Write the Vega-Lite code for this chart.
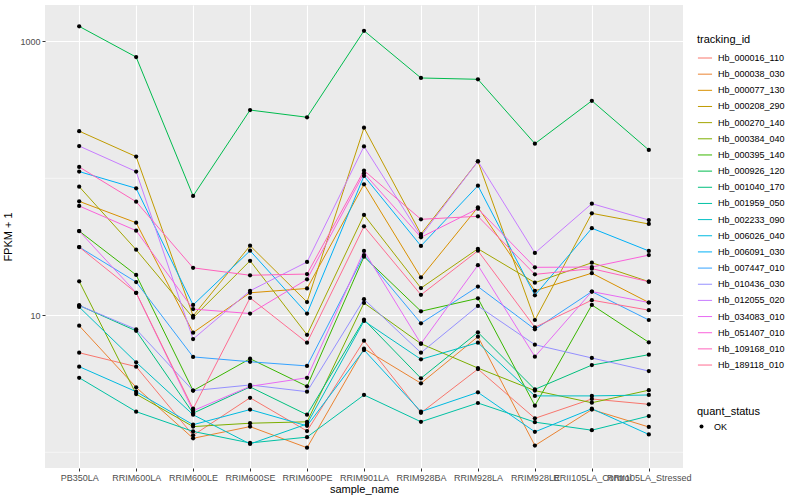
{
  "$schema": "https://vega.github.io/schema/vega-lite/v6.json",
  "width": 638,
  "height": 463,
  "autosize": {"type": "none"},
  "padding": {"left": 45, "top": 5, "right": 117, "bottom": 32},
  "background": "white",
  "config": {
    "view": {"fill": "#EBEBEB", "stroke": null},
    "font": "Liberation Sans",
    "axis": {
      "domain": false,
      "gridColor": "#FFFFFF",
      "gridWidth": 1.1,
      "tickColor": "#333333",
      "tickSize": 3,
      "labelFontSize": 9,
      "labelColor": "#4D4D4D",
      "labelFont": "Liberation Sans",
      "titleFont": "Liberation Sans",
      "titleFontSize": 11,
      "titleFontWeight": "normal",
      "titleColor": "#000000"
    },
    "legend": {
      "titleFont": "Liberation Sans",
      "titleFontSize": 11,
      "titleFontWeight": "normal",
      "titleColor": "#000000",
      "labelFont": "Liberation Sans",
      "labelFontSize": 9,
      "labelColor": "#000000"
    }
  },
  "datasets": {
    "expr": [
      {"tracking_id": "Hb_000016_110", "sample_name": "PB350LA", "FPKM": 5.33, "quant_status": "OK"},
      {"tracking_id": "Hb_000016_110", "sample_name": "RRIM600LA", "FPKM": 4.22, "quant_status": "OK"},
      {"tracking_id": "Hb_000016_110", "sample_name": "RRIM600LE", "FPKM": 1.33, "quant_status": "OK"},
      {"tracking_id": "Hb_000016_110", "sample_name": "RRIM600SE", "FPKM": 2.5, "quant_status": "OK"},
      {"tracking_id": "Hb_000016_110", "sample_name": "RRIM600PE", "FPKM": 1.43, "quant_status": "OK"},
      {"tracking_id": "Hb_000016_110", "sample_name": "RRIM901LA", "FPKM": 6.53, "quant_status": "OK"},
      {"tracking_id": "Hb_000016_110", "sample_name": "RRIM928BA", "FPKM": 1.94, "quant_status": "OK"},
      {"tracking_id": "Hb_000016_110", "sample_name": "RRIM928LA", "FPKM": 4.05, "quant_status": "OK"},
      {"tracking_id": "Hb_000016_110", "sample_name": "RRIM928LE", "FPKM": 1.77, "quant_status": "OK"},
      {"tracking_id": "Hb_000016_110", "sample_name": "RRII105LA_Control", "FPKM": 2.45, "quant_status": "OK"},
      {"tracking_id": "Hb_000016_110", "sample_name": "RRII105LA_Stressed", "FPKM": 2.24, "quant_status": "OK"},

      {"tracking_id": "Hb_000038_030", "sample_name": "PB350LA", "FPKM": 8.4, "quant_status": "OK"},
      {"tracking_id": "Hb_000038_030", "sample_name": "RRIM600LA", "FPKM": 2.98, "quant_status": "OK"},
      {"tracking_id": "Hb_000038_030", "sample_name": "RRIM600LE", "FPKM": 1.265, "quant_status": "OK"},
      {"tracking_id": "Hb_000038_030", "sample_name": "RRIM600SE", "FPKM": 1.54, "quant_status": "OK"},
      {"tracking_id": "Hb_000038_030", "sample_name": "RRIM600PE", "FPKM": 1.08, "quant_status": "OK"},
      {"tracking_id": "Hb_000038_030", "sample_name": "RRIM901LA", "FPKM": 5.7, "quant_status": "OK"},
      {"tracking_id": "Hb_000038_030", "sample_name": "RRIM928BA", "FPKM": 3.19, "quant_status": "OK"},
      {"tracking_id": "Hb_000038_030", "sample_name": "RRIM928LA", "FPKM": 6.98, "quant_status": "OK"},
      {"tracking_id": "Hb_000038_030", "sample_name": "RRIM928LE", "FPKM": 1.12, "quant_status": "OK"},
      {"tracking_id": "Hb_000038_030", "sample_name": "RRII105LA_Control", "FPKM": 2.05, "quant_status": "OK"},
      {"tracking_id": "Hb_000038_030", "sample_name": "RRII105LA_Stressed", "FPKM": 1.53, "quant_status": "OK"},

      {"tracking_id": "Hb_000077_130", "sample_name": "PB350LA", "FPKM": 67.9, "quant_status": "OK"},
      {"tracking_id": "Hb_000077_130", "sample_name": "RRIM600LA", "FPKM": 47.4, "quant_status": "OK"},
      {"tracking_id": "Hb_000077_130", "sample_name": "RRIM600LE", "FPKM": 7.47, "quant_status": "OK"},
      {"tracking_id": "Hb_000077_130", "sample_name": "RRIM600SE", "FPKM": 14.6, "quant_status": "OK"},
      {"tracking_id": "Hb_000077_130", "sample_name": "RRIM600PE", "FPKM": 15.7, "quant_status": "OK"},
      {"tracking_id": "Hb_000077_130", "sample_name": "RRIM901LA", "FPKM": 90.4, "quant_status": "OK"},
      {"tracking_id": "Hb_000077_130", "sample_name": "RRIM928BA", "FPKM": 18.9, "quant_status": "OK"},
      {"tracking_id": "Hb_000077_130", "sample_name": "RRIM928LA", "FPKM": 61.4, "quant_status": "OK"},
      {"tracking_id": "Hb_000077_130", "sample_name": "RRIM928LE", "FPKM": 15.1, "quant_status": "OK"},
      {"tracking_id": "Hb_000077_130", "sample_name": "RRII105LA_Control", "FPKM": 20.3, "quant_status": "OK"},
      {"tracking_id": "Hb_000077_130", "sample_name": "RRII105LA_Stressed", "FPKM": 12.4, "quant_status": "OK"},

      {"tracking_id": "Hb_000208_290", "sample_name": "PB350LA", "FPKM": 221, "quant_status": "OK"},
      {"tracking_id": "Hb_000208_290", "sample_name": "RRIM600LA", "FPKM": 144, "quant_status": "OK"},
      {"tracking_id": "Hb_000208_290", "sample_name": "RRIM600LE", "FPKM": 9.9, "quant_status": "OK"},
      {"tracking_id": "Hb_000208_290", "sample_name": "RRIM600SE", "FPKM": 32.2, "quant_status": "OK"},
      {"tracking_id": "Hb_000208_290", "sample_name": "RRIM600PE", "FPKM": 12.5, "quant_status": "OK"},
      {"tracking_id": "Hb_000208_290", "sample_name": "RRIM901LA", "FPKM": 234, "quant_status": "OK"},
      {"tracking_id": "Hb_000208_290", "sample_name": "RRIM928BA", "FPKM": 39.2, "quant_status": "OK"},
      {"tracking_id": "Hb_000208_290", "sample_name": "RRIM928LA", "FPKM": 133, "quant_status": "OK"},
      {"tracking_id": "Hb_000208_290", "sample_name": "RRIM928LE", "FPKM": 9.24, "quant_status": "OK"},
      {"tracking_id": "Hb_000208_290", "sample_name": "RRII105LA_Control", "FPKM": 55.5, "quant_status": "OK"},
      {"tracking_id": "Hb_000208_290", "sample_name": "RRII105LA_Stressed", "FPKM": 46.4, "quant_status": "OK"},

      {"tracking_id": "Hb_000270_140", "sample_name": "PB350LA", "FPKM": 86.9, "quant_status": "OK"},
      {"tracking_id": "Hb_000270_140", "sample_name": "RRIM600LA", "FPKM": 30.1, "quant_status": "OK"},
      {"tracking_id": "Hb_000270_140", "sample_name": "RRIM600LE", "FPKM": 9.6, "quant_status": "OK"},
      {"tracking_id": "Hb_000270_140", "sample_name": "RRIM600SE", "FPKM": 25.0, "quant_status": "OK"},
      {"tracking_id": "Hb_000270_140", "sample_name": "RRIM600PE", "FPKM": 7.21, "quant_status": "OK"},
      {"tracking_id": "Hb_000270_140", "sample_name": "RRIM901LA", "FPKM": 54.0, "quant_status": "OK"},
      {"tracking_id": "Hb_000270_140", "sample_name": "RRIM928BA", "FPKM": 15.8, "quant_status": "OK"},
      {"tracking_id": "Hb_000270_140", "sample_name": "RRIM928LA", "FPKM": 30.6, "quant_status": "OK"},
      {"tracking_id": "Hb_000270_140", "sample_name": "RRIM928LE", "FPKM": 17.3, "quant_status": "OK"},
      {"tracking_id": "Hb_000270_140", "sample_name": "RRII105LA_Control", "FPKM": 24.2, "quant_status": "OK"},
      {"tracking_id": "Hb_000270_140", "sample_name": "RRII105LA_Stressed", "FPKM": 17.6, "quant_status": "OK"},

      {"tracking_id": "Hb_000384_040", "sample_name": "PB350LA", "FPKM": 17.7, "quant_status": "OK"},
      {"tracking_id": "Hb_000384_040", "sample_name": "RRIM600LA", "FPKM": 2.66, "quant_status": "OK"},
      {"tracking_id": "Hb_000384_040", "sample_name": "RRIM600LE", "FPKM": 1.54, "quant_status": "OK"},
      {"tracking_id": "Hb_000384_040", "sample_name": "RRIM600SE", "FPKM": 1.63, "quant_status": "OK"},
      {"tracking_id": "Hb_000384_040", "sample_name": "RRIM600PE", "FPKM": 1.67, "quant_status": "OK"},
      {"tracking_id": "Hb_000384_040", "sample_name": "RRIM901LA", "FPKM": 12.3, "quant_status": "OK"},
      {"tracking_id": "Hb_000384_040", "sample_name": "RRIM928BA", "FPKM": 6.2, "quant_status": "OK"},
      {"tracking_id": "Hb_000384_040", "sample_name": "RRIM928LA", "FPKM": 4.12, "quant_status": "OK"},
      {"tracking_id": "Hb_000384_040", "sample_name": "RRIM928LE", "FPKM": 2.82, "quant_status": "OK"},
      {"tracking_id": "Hb_000384_040", "sample_name": "RRII105LA_Control", "FPKM": 2.3, "quant_status": "OK"},
      {"tracking_id": "Hb_000384_040", "sample_name": "RRII105LA_Stressed", "FPKM": 2.84, "quant_status": "OK"},

      {"tracking_id": "Hb_000395_140", "sample_name": "PB350LA", "FPKM": 41.2, "quant_status": "OK"},
      {"tracking_id": "Hb_000395_140", "sample_name": "RRIM600LA", "FPKM": 19.7, "quant_status": "OK"},
      {"tracking_id": "Hb_000395_140", "sample_name": "RRIM600LE", "FPKM": 2.82, "quant_status": "OK"},
      {"tracking_id": "Hb_000395_140", "sample_name": "RRIM600SE", "FPKM": 4.82, "quant_status": "OK"},
      {"tracking_id": "Hb_000395_140", "sample_name": "RRIM600PE", "FPKM": 3.03, "quant_status": "OK"},
      {"tracking_id": "Hb_000395_140", "sample_name": "RRIM901LA", "FPKM": 26.8, "quant_status": "OK"},
      {"tracking_id": "Hb_000395_140", "sample_name": "RRIM928BA", "FPKM": 10.7, "quant_status": "OK"},
      {"tracking_id": "Hb_000395_140", "sample_name": "RRIM928LA", "FPKM": 13.3, "quant_status": "OK"},
      {"tracking_id": "Hb_000395_140", "sample_name": "RRIM928LE", "FPKM": 2.19, "quant_status": "OK"},
      {"tracking_id": "Hb_000395_140", "sample_name": "RRII105LA_Control", "FPKM": 11.9, "quant_status": "OK"},
      {"tracking_id": "Hb_000395_140", "sample_name": "RRII105LA_Stressed", "FPKM": 6.35, "quant_status": "OK"},

      {"tracking_id": "Hb_000926_120", "sample_name": "PB350LA", "FPKM": 1286, "quant_status": "OK"},
      {"tracking_id": "Hb_000926_120", "sample_name": "RRIM600LA", "FPKM": 767, "quant_status": "OK"},
      {"tracking_id": "Hb_000926_120", "sample_name": "RRIM600LE", "FPKM": 74.3, "quant_status": "OK"},
      {"tracking_id": "Hb_000926_120", "sample_name": "RRIM600SE", "FPKM": 315, "quant_status": "OK"},
      {"tracking_id": "Hb_000926_120", "sample_name": "RRIM600PE", "FPKM": 279, "quant_status": "OK"},
      {"tracking_id": "Hb_000926_120", "sample_name": "RRIM901LA", "FPKM": 1194, "quant_status": "OK"},
      {"tracking_id": "Hb_000926_120", "sample_name": "RRIM928BA", "FPKM": 540, "quant_status": "OK"},
      {"tracking_id": "Hb_000926_120", "sample_name": "RRIM928LA", "FPKM": 528, "quant_status": "OK"},
      {"tracking_id": "Hb_000926_120", "sample_name": "RRIM928LE", "FPKM": 179, "quant_status": "OK"},
      {"tracking_id": "Hb_000926_120", "sample_name": "RRII105LA_Control", "FPKM": 368, "quant_status": "OK"},
      {"tracking_id": "Hb_000926_120", "sample_name": "RRII105LA_Stressed", "FPKM": 161, "quant_status": "OK"},

      {"tracking_id": "Hb_001040_170", "sample_name": "PB350LA", "FPKM": 11.8, "quant_status": "OK"},
      {"tracking_id": "Hb_001040_170", "sample_name": "RRIM600LA", "FPKM": 7.7, "quant_status": "OK"},
      {"tracking_id": "Hb_001040_170", "sample_name": "RRIM600LE", "FPKM": 1.93, "quant_status": "OK"},
      {"tracking_id": "Hb_001040_170", "sample_name": "RRIM600SE", "FPKM": 3.0, "quant_status": "OK"},
      {"tracking_id": "Hb_001040_170", "sample_name": "RRIM600PE", "FPKM": 1.88, "quant_status": "OK"},
      {"tracking_id": "Hb_001040_170", "sample_name": "RRIM901LA", "FPKM": 9.29, "quant_status": "OK"},
      {"tracking_id": "Hb_001040_170", "sample_name": "RRIM928BA", "FPKM": 3.47, "quant_status": "OK"},
      {"tracking_id": "Hb_001040_170", "sample_name": "RRIM928LA", "FPKM": 7.51, "quant_status": "OK"},
      {"tracking_id": "Hb_001040_170", "sample_name": "RRIM928LE", "FPKM": 2.88, "quant_status": "OK"},
      {"tracking_id": "Hb_001040_170", "sample_name": "RRII105LA_Control", "FPKM": 4.33, "quant_status": "OK"},
      {"tracking_id": "Hb_001040_170", "sample_name": "RRII105LA_Stressed", "FPKM": 5.16, "quant_status": "OK"},

      {"tracking_id": "Hb_001959_050", "sample_name": "PB350LA", "FPKM": 3.5, "quant_status": "OK"},
      {"tracking_id": "Hb_001959_050", "sample_name": "RRIM600LA", "FPKM": 1.98, "quant_status": "OK"},
      {"tracking_id": "Hb_001959_050", "sample_name": "RRIM600LE", "FPKM": 1.42, "quant_status": "OK"},
      {"tracking_id": "Hb_001959_050", "sample_name": "RRIM600SE", "FPKM": 1.17, "quant_status": "OK"},
      {"tracking_id": "Hb_001959_050", "sample_name": "RRIM600PE", "FPKM": 1.29, "quant_status": "OK"},
      {"tracking_id": "Hb_001959_050", "sample_name": "RRIM901LA", "FPKM": 2.62, "quant_status": "OK"},
      {"tracking_id": "Hb_001959_050", "sample_name": "RRIM928BA", "FPKM": 1.67, "quant_status": "OK"},
      {"tracking_id": "Hb_001959_050", "sample_name": "RRIM928LA", "FPKM": 2.29, "quant_status": "OK"},
      {"tracking_id": "Hb_001959_050", "sample_name": "RRIM928LE", "FPKM": 1.66, "quant_status": "OK"},
      {"tracking_id": "Hb_001959_050", "sample_name": "RRII105LA_Control", "FPKM": 1.45, "quant_status": "OK"},
      {"tracking_id": "Hb_001959_050", "sample_name": "RRII105LA_Stressed", "FPKM": 1.84, "quant_status": "OK"},

      {"tracking_id": "Hb_002233_090", "sample_name": "PB350LA", "FPKM": 11.5, "quant_status": "OK"},
      {"tracking_id": "Hb_002233_090", "sample_name": "RRIM600LA", "FPKM": 4.54, "quant_status": "OK"},
      {"tracking_id": "Hb_002233_090", "sample_name": "RRIM600LE", "FPKM": 1.88, "quant_status": "OK"},
      {"tracking_id": "Hb_002233_090", "sample_name": "RRIM600SE", "FPKM": 1.15, "quant_status": "OK"},
      {"tracking_id": "Hb_002233_090", "sample_name": "RRIM600PE", "FPKM": 1.61, "quant_status": "OK"},
      {"tracking_id": "Hb_002233_090", "sample_name": "RRIM901LA", "FPKM": 9.09, "quant_status": "OK"},
      {"tracking_id": "Hb_002233_090", "sample_name": "RRIM928BA", "FPKM": 4.77, "quant_status": "OK"},
      {"tracking_id": "Hb_002233_090", "sample_name": "RRIM928LA", "FPKM": 6.31, "quant_status": "OK"},
      {"tracking_id": "Hb_002233_090", "sample_name": "RRIM928LE", "FPKM": 2.58, "quant_status": "OK"},
      {"tracking_id": "Hb_002233_090", "sample_name": "RRII105LA_Control", "FPKM": 2.58, "quant_status": "OK"},
      {"tracking_id": "Hb_002233_090", "sample_name": "RRII105LA_Stressed", "FPKM": 2.62, "quant_status": "OK"},

      {"tracking_id": "Hb_006026_040", "sample_name": "PB350LA", "FPKM": 4.22, "quant_status": "OK"},
      {"tracking_id": "Hb_006026_040", "sample_name": "RRIM600LA", "FPKM": 2.77, "quant_status": "OK"},
      {"tracking_id": "Hb_006026_040", "sample_name": "RRIM600LE", "FPKM": 1.59, "quant_status": "OK"},
      {"tracking_id": "Hb_006026_040", "sample_name": "RRIM600SE", "FPKM": 2.05, "quant_status": "OK"},
      {"tracking_id": "Hb_006026_040", "sample_name": "RRIM600PE", "FPKM": 1.56, "quant_status": "OK"},
      {"tracking_id": "Hb_006026_040", "sample_name": "RRIM901LA", "FPKM": 5.58, "quant_status": "OK"},
      {"tracking_id": "Hb_006026_040", "sample_name": "RRIM928BA", "FPKM": 1.98, "quant_status": "OK"},
      {"tracking_id": "Hb_006026_040", "sample_name": "RRIM928LA", "FPKM": 2.74, "quant_status": "OK"},
      {"tracking_id": "Hb_006026_040", "sample_name": "RRIM928LE", "FPKM": 1.41, "quant_status": "OK"},
      {"tracking_id": "Hb_006026_040", "sample_name": "RRII105LA_Control", "FPKM": 2.08, "quant_status": "OK"},
      {"tracking_id": "Hb_006026_040", "sample_name": "RRII105LA_Stressed", "FPKM": 1.35, "quant_status": "OK"},

      {"tracking_id": "Hb_006091_030", "sample_name": "PB350LA", "FPKM": 112, "quant_status": "OK"},
      {"tracking_id": "Hb_006091_030", "sample_name": "RRIM600LA", "FPKM": 84.5, "quant_status": "OK"},
      {"tracking_id": "Hb_006091_030", "sample_name": "RRIM600LE", "FPKM": 11.9, "quant_status": "OK"},
      {"tracking_id": "Hb_006091_030", "sample_name": "RRIM600SE", "FPKM": 29.6, "quant_status": "OK"},
      {"tracking_id": "Hb_006091_030", "sample_name": "RRIM600PE", "FPKM": 10.3, "quant_status": "OK"},
      {"tracking_id": "Hb_006091_030", "sample_name": "RRIM901LA", "FPKM": 104, "quant_status": "OK"},
      {"tracking_id": "Hb_006091_030", "sample_name": "RRIM928BA", "FPKM": 32.1, "quant_status": "OK"},
      {"tracking_id": "Hb_006091_030", "sample_name": "RRIM928LA", "FPKM": 88.3, "quant_status": "OK"},
      {"tracking_id": "Hb_006091_030", "sample_name": "RRIM928LE", "FPKM": 14.0, "quant_status": "OK"},
      {"tracking_id": "Hb_006091_030", "sample_name": "RRII105LA_Control", "FPKM": 43.2, "quant_status": "OK"},
      {"tracking_id": "Hb_006091_030", "sample_name": "RRII105LA_Stressed", "FPKM": 29.5, "quant_status": "OK"},

      {"tracking_id": "Hb_007447_010", "sample_name": "PB350LA", "FPKM": 31.5, "quant_status": "OK"},
      {"tracking_id": "Hb_007447_010", "sample_name": "RRIM600LA", "FPKM": 17.5, "quant_status": "OK"},
      {"tracking_id": "Hb_007447_010", "sample_name": "RRIM600LE", "FPKM": 4.97, "quant_status": "OK"},
      {"tracking_id": "Hb_007447_010", "sample_name": "RRIM600SE", "FPKM": 4.58, "quant_status": "OK"},
      {"tracking_id": "Hb_007447_010", "sample_name": "RRIM600PE", "FPKM": 4.27, "quant_status": "OK"},
      {"tracking_id": "Hb_007447_010", "sample_name": "RRIM901LA", "FPKM": 27.5, "quant_status": "OK"},
      {"tracking_id": "Hb_007447_010", "sample_name": "RRIM928BA", "FPKM": 8.74, "quant_status": "OK"},
      {"tracking_id": "Hb_007447_010", "sample_name": "RRIM928LA", "FPKM": 16.2, "quant_status": "OK"},
      {"tracking_id": "Hb_007447_010", "sample_name": "RRIM928LE", "FPKM": 7.9, "quant_status": "OK"},
      {"tracking_id": "Hb_007447_010", "sample_name": "RRII105LA_Control", "FPKM": 14.9, "quant_status": "OK"},
      {"tracking_id": "Hb_007447_010", "sample_name": "RRII105LA_Stressed", "FPKM": 9.24, "quant_status": "OK"},

      {"tracking_id": "Hb_010436_030", "sample_name": "PB350LA", "FPKM": 11.8, "quant_status": "OK"},
      {"tracking_id": "Hb_010436_030", "sample_name": "RRIM600LA", "FPKM": 7.9, "quant_status": "OK"},
      {"tracking_id": "Hb_010436_030", "sample_name": "RRIM600LE", "FPKM": 2.82, "quant_status": "OK"},
      {"tracking_id": "Hb_010436_030", "sample_name": "RRIM600SE", "FPKM": 3.1, "quant_status": "OK"},
      {"tracking_id": "Hb_010436_030", "sample_name": "RRIM600PE", "FPKM": 2.77, "quant_status": "OK"},
      {"tracking_id": "Hb_010436_030", "sample_name": "RRIM901LA", "FPKM": 13.1, "quant_status": "OK"},
      {"tracking_id": "Hb_010436_030", "sample_name": "RRIM928BA", "FPKM": 5.33, "quant_status": "OK"},
      {"tracking_id": "Hb_010436_030", "sample_name": "RRIM928LA", "FPKM": 11.7, "quant_status": "OK"},
      {"tracking_id": "Hb_010436_030", "sample_name": "RRIM928LE", "FPKM": 6.1, "quant_status": "OK"},
      {"tracking_id": "Hb_010436_030", "sample_name": "RRII105LA_Control", "FPKM": 4.88, "quant_status": "OK"},
      {"tracking_id": "Hb_010436_030", "sample_name": "RRII105LA_Stressed", "FPKM": 3.92, "quant_status": "OK"},

      {"tracking_id": "Hb_012055_020", "sample_name": "PB350LA", "FPKM": 172, "quant_status": "OK"},
      {"tracking_id": "Hb_012055_020", "sample_name": "RRIM600LA", "FPKM": 112, "quant_status": "OK"},
      {"tracking_id": "Hb_012055_020", "sample_name": "RRIM600LE", "FPKM": 6.71, "quant_status": "OK"},
      {"tracking_id": "Hb_012055_020", "sample_name": "RRIM600SE", "FPKM": 15.1, "quant_status": "OK"},
      {"tracking_id": "Hb_012055_020", "sample_name": "RRIM600PE", "FPKM": 24.5, "quant_status": "OK"},
      {"tracking_id": "Hb_012055_020", "sample_name": "RRIM901LA", "FPKM": 171, "quant_status": "OK"},
      {"tracking_id": "Hb_012055_020", "sample_name": "RRIM928BA", "FPKM": 37.9, "quant_status": "OK"},
      {"tracking_id": "Hb_012055_020", "sample_name": "RRIM928LA", "FPKM": 133, "quant_status": "OK"},
      {"tracking_id": "Hb_012055_020", "sample_name": "RRIM928LE", "FPKM": 28.5, "quant_status": "OK"},
      {"tracking_id": "Hb_012055_020", "sample_name": "RRII105LA_Control", "FPKM": 65.3, "quant_status": "OK"},
      {"tracking_id": "Hb_012055_020", "sample_name": "RRII105LA_Stressed", "FPKM": 49.6, "quant_status": "OK"},

      {"tracking_id": "Hb_034083_010", "sample_name": "PB350LA", "FPKM": 41.2, "quant_status": "OK"},
      {"tracking_id": "Hb_034083_010", "sample_name": "RRIM600LA", "FPKM": 14.6, "quant_status": "OK"},
      {"tracking_id": "Hb_034083_010", "sample_name": "RRIM600LE", "FPKM": 2.01, "quant_status": "OK"},
      {"tracking_id": "Hb_034083_010", "sample_name": "RRIM600SE", "FPKM": 3.03, "quant_status": "OK"},
      {"tracking_id": "Hb_034083_010", "sample_name": "RRIM600PE", "FPKM": 3.5, "quant_status": "OK"},
      {"tracking_id": "Hb_034083_010", "sample_name": "RRIM901LA", "FPKM": 29.5, "quant_status": "OK"},
      {"tracking_id": "Hb_034083_010", "sample_name": "RRIM928BA", "FPKM": 6.21, "quant_status": "OK"},
      {"tracking_id": "Hb_034083_010", "sample_name": "RRIM928LA", "FPKM": 23.2, "quant_status": "OK"},
      {"tracking_id": "Hb_034083_010", "sample_name": "RRIM928LE", "FPKM": 4.99, "quant_status": "OK"},
      {"tracking_id": "Hb_034083_010", "sample_name": "RRII105LA_Control", "FPKM": 14.9, "quant_status": "OK"},
      {"tracking_id": "Hb_034083_010", "sample_name": "RRII105LA_Stressed", "FPKM": 12.4, "quant_status": "OK"},

      {"tracking_id": "Hb_051407_010", "sample_name": "PB350LA", "FPKM": 62.8, "quant_status": "OK"},
      {"tracking_id": "Hb_051407_010", "sample_name": "RRIM600LA", "FPKM": 41.5, "quant_status": "OK"},
      {"tracking_id": "Hb_051407_010", "sample_name": "RRIM600LE", "FPKM": 11.1, "quant_status": "OK"},
      {"tracking_id": "Hb_051407_010", "sample_name": "RRIM600SE", "FPKM": 10.3, "quant_status": "OK"},
      {"tracking_id": "Hb_051407_010", "sample_name": "RRIM600PE", "FPKM": 18.3, "quant_status": "OK"},
      {"tracking_id": "Hb_051407_010", "sample_name": "RRIM901LA", "FPKM": 109, "quant_status": "OK"},
      {"tracking_id": "Hb_051407_010", "sample_name": "RRIM928BA", "FPKM": 37.1, "quant_status": "OK"},
      {"tracking_id": "Hb_051407_010", "sample_name": "RRIM928LA", "FPKM": 60.0, "quant_status": "OK"},
      {"tracking_id": "Hb_051407_010", "sample_name": "RRIM928LE", "FPKM": 22.4, "quant_status": "OK"},
      {"tracking_id": "Hb_051407_010", "sample_name": "RRII105LA_Control", "FPKM": 22.5, "quant_status": "OK"},
      {"tracking_id": "Hb_051407_010", "sample_name": "RRII105LA_Stressed", "FPKM": 27.5, "quant_status": "OK"},

      {"tracking_id": "Hb_109168_010", "sample_name": "PB350LA", "FPKM": 121, "quant_status": "OK"},
      {"tracking_id": "Hb_109168_010", "sample_name": "RRIM600LA", "FPKM": 67.5, "quant_status": "OK"},
      {"tracking_id": "Hb_109168_010", "sample_name": "RRIM600LE", "FPKM": 22.2, "quant_status": "OK"},
      {"tracking_id": "Hb_109168_010", "sample_name": "RRIM600SE", "FPKM": 19.6, "quant_status": "OK"},
      {"tracking_id": "Hb_109168_010", "sample_name": "RRIM600PE", "FPKM": 20.0, "quant_status": "OK"},
      {"tracking_id": "Hb_109168_010", "sample_name": "RRIM901LA", "FPKM": 114, "quant_status": "OK"},
      {"tracking_id": "Hb_109168_010", "sample_name": "RRIM928BA", "FPKM": 50.2, "quant_status": "OK"},
      {"tracking_id": "Hb_109168_010", "sample_name": "RRIM928LA", "FPKM": 52.8, "quant_status": "OK"},
      {"tracking_id": "Hb_109168_010", "sample_name": "RRIM928LE", "FPKM": 19.9, "quant_status": "OK"},
      {"tracking_id": "Hb_109168_010", "sample_name": "RRII105LA_Control", "FPKM": 21.9, "quant_status": "OK"},
      {"tracking_id": "Hb_109168_010", "sample_name": "RRII105LA_Stressed", "FPKM": 17.6, "quant_status": "OK"},

      {"tracking_id": "Hb_189118_010", "sample_name": "PB350LA", "FPKM": 31.5, "quant_status": "OK"},
      {"tracking_id": "Hb_189118_010", "sample_name": "RRIM600LA", "FPKM": 14.6, "quant_status": "OK"},
      {"tracking_id": "Hb_189118_010", "sample_name": "RRIM600LE", "FPKM": 2.08, "quant_status": "OK"},
      {"tracking_id": "Hb_189118_010", "sample_name": "RRIM600SE", "FPKM": 13.4, "quant_status": "OK"},
      {"tracking_id": "Hb_189118_010", "sample_name": "RRIM600PE", "FPKM": 6.31, "quant_status": "OK"},
      {"tracking_id": "Hb_189118_010", "sample_name": "RRIM901LA", "FPKM": 44.6, "quant_status": "OK"},
      {"tracking_id": "Hb_189118_010", "sample_name": "RRIM928BA", "FPKM": 14.1, "quant_status": "OK"},
      {"tracking_id": "Hb_189118_010", "sample_name": "RRIM928LA", "FPKM": 29.6, "quant_status": "OK"},
      {"tracking_id": "Hb_189118_010", "sample_name": "RRIM928LE", "FPKM": 8.17, "quant_status": "OK"},
      {"tracking_id": "Hb_189118_010", "sample_name": "RRII105LA_Control", "FPKM": 12.9, "quant_status": "OK"},
      {"tracking_id": "Hb_189118_010", "sample_name": "RRII105LA_Stressed", "FPKM": 10.9, "quant_status": "OK"}
    ],
    "minor": [{"gridline": 1}, {"gridline": 100}]
  },
  "layer": [
    {
      "data": {"name": "minor"},
      "mark": {"type": "rule", "color": "#FFFFFF", "strokeWidth": 0.55},
      "encoding": {
        "y": {"field": "gridline", "type": "quantitative", "scale": {"type": "log", "domain": [0.768, 1841], "nice": false, "zero": false}}
      }
    },
    {
      "data": {"name": "expr"},
      "mark": {"type": "line", "strokeWidth": 1},
      "encoding": {
        "x": {
          "field": "sample_name", "type": "nominal",
          "sort": ["PB350LA", "RRIM600LA", "RRIM600LE", "RRIM600SE", "RRIM600PE", "RRIM901LA", "RRIM928BA", "RRIM928LA", "RRIM928LE", "RRII105LA_Control", "RRII105LA_Stressed"],
          "scale": {"type": "point", "padding": 0.6},
          "axis": {"title": "sample_name", "labelAngle": 0, "labelOverlap": false, "labelPadding": 2, "titlePadding": 1, "grid": true}
        },
        "y": {
          "field": "FPKM", "type": "quantitative",
          "scale": {"type": "log", "domain": [0.768, 1841], "nice": false, "zero": false},
          "axis": {"title": "FPKM + 1", "values": [10, 1000], "format": "d", "labelPadding": 2, "titlePadding": 6, "grid": true}
        },
        "color": {
          "field": "tracking_id", "type": "nominal",
          "scale": {
            "domain": ["Hb_000016_110", "Hb_000038_030", "Hb_000077_130", "Hb_000208_290", "Hb_000270_140", "Hb_000384_040", "Hb_000395_140", "Hb_000926_120", "Hb_001040_170", "Hb_001959_050", "Hb_002233_090", "Hb_006026_040", "Hb_006091_030", "Hb_007447_010", "Hb_010436_030", "Hb_012055_020", "Hb_034083_010", "Hb_051407_010", "Hb_109168_010", "Hb_189118_010"],
            "range": ["#F8766D", "#EA8331", "#D89000", "#C09B00", "#A3A500", "#7CAE00", "#39B600", "#00BB4E", "#00BF7D", "#00C1A3", "#00BFC4", "#00BAE0", "#00B0F6", "#35A2FF", "#9590FF", "#C77CFF", "#E76BF3", "#FA62DB", "#FF62BC", "#FF6C91"]
          },
          "legend": {
            "title": "tracking_id", "orient": "none", "legendX": 652, "legendY": 29,
            "symbolType": "stroke", "symbolSize": 200, "symbolStrokeWidth": 1,
            "rowPadding": 3.16, "titlePadding": 5, "labelOffset": 5
          }
        }
      }
    },
    {
      "data": {"name": "expr"},
      "mark": {"type": "point", "filled": true, "size": 18, "color": "#000000", "opacity": 1},
      "encoding": {
        "x": {"field": "sample_name", "type": "nominal", "sort": ["PB350LA", "RRIM600LA", "RRIM600LE", "RRIM600SE", "RRIM600PE", "RRIM901LA", "RRIM928BA", "RRIM928LA", "RRIM928LE", "RRII105LA_Control", "RRII105LA_Stressed"]},
        "y": {"field": "FPKM", "type": "quantitative"},
        "shape": {
          "field": "quant_status", "type": "nominal",
          "scale": {"range": ["circle"]},
          "legend": {
            "title": "quant_status", "orient": "none", "legendX": 652, "legendY": 401,
            "symbolFillColor": "#000000", "symbolStrokeColor": "#000000", "symbolSize": 16,
            "titlePadding": 5, "labelOffset": 8
          }
        }
      }
    }
  ]
}
